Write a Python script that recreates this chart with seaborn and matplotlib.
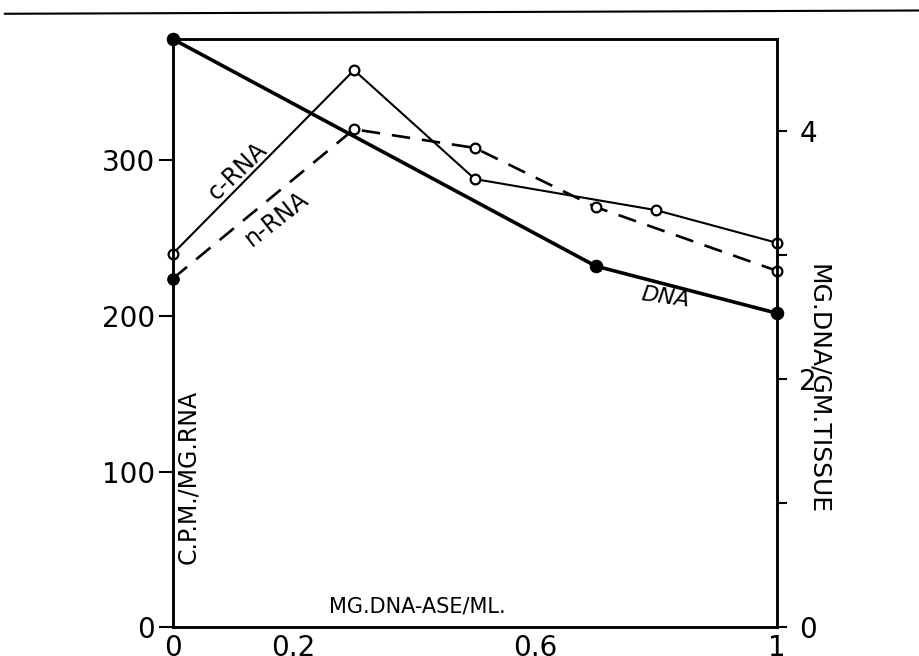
import matplotlib
matplotlib.use("Agg")
import matplotlib.pyplot as plt
from matplotlib.lines import Line2D
import seaborn as sns
import pandas as pd

# ---- data ----
x_crna = [0.0, 0.3, 0.5, 0.8, 1.0]
crna = [240, 358, 288, 268, 247]
x_nrna = [0.0, 0.3, 0.5, 0.7, 1.0]
nrna = [224, 320, 308, 270, 229]
x_dna = [0.0, 0.7, 1.0]
dna = [4.74, 2.91, 2.53]

left_ticks = [0, 100, 200, 300]
right_ticks = [0, 1, 2, 3, 4]
right_labels = ["0", "", "2", "", "4"]
x_ticks = [0, 0.2, 0.4, 0.6, 0.8, 1.0]
x_labels = ["0", "0.2", "", "0.6", "", "1"]

sns.set_style("white")
plt.rcParams["font.family"] = ["DejaVu Sans"]
plt.rcParams["text.color"] = "black"
plt.rcParams["axes.labelcolor"] = "black"
plt.rcParams["xtick.color"] = "black"
plt.rcParams["ytick.color"] = "black"

fig = plt.figure(figsize=(9.19, 6.56), dpi=100)
ax = fig.add_axes([0.188, 0.044, 0.6575, 0.8965])

df_c = pd.DataFrame({"x": x_crna, "y": crna})
df_n = pd.DataFrame({"x": x_nrna, "y": nrna})
df_d = pd.DataFrame({"x": x_dna, "y": dna})

sns.lineplot(data=df_c, x="x", y="y", ax=ax, color="black", lw=1.5,
             marker="o", markersize=7, markerfacecolor="white",
             markeredgecolor="black", markeredgewidth=1.6, clip_on=False)
sns.lineplot(data=df_n, x="x", y="y", ax=ax, color="black", lw=1.9,
             marker="o", markersize=7, markerfacecolor="white",
             markeredgecolor="black", markeredgewidth=1.6, clip_on=False)
ax.lines[-1].set_dashes([7, 4.5])
# filled first point of n-RNA
ax.plot([x_nrna[0]], [nrna[0]], "o", color="black", markersize=8, zorder=5,
        clip_on=False)

ax.set_xlim(0, 1)
ax.set_ylim(0, 378)
ax.set_xticks(x_ticks)
ax.set_xticklabels(x_labels, fontsize=20)
ax.set_yticks(left_ticks)
ax.set_yticklabels([str(v) for v in left_ticks], fontsize=20)
ax.tick_params(axis="y", direction="out", length=10, width=1.5, pad=3)
ax.tick_params(axis="x", direction="out", length=5, width=1.5, pad=0)
ax.set_xlabel("")
ax.set_ylabel("")

ax2 = ax.twinx()
sns.lineplot(data=df_d, x="x", y="y", ax=ax2, color="black", lw=2.6,
             marker="o", markersize=9, markerfacecolor="black",
             markeredgecolor="black", clip_on=False)
ax2.set_ylim(0, 4.74)
ax2.set_yticks(right_ticks)
ax2.set_yticklabels(right_labels, fontsize=20)
ax2.tick_params(axis="y", direction="out", length=7, width=1.5, pad=9)
ax2.set_ylabel("")
ax2.set_xlabel("")

for a in (ax, ax2):
    for s in a.spines.values():
        s.set_visible(True)
        s.set_color("black")
        s.set_linewidth(1.8)

# axis titles drawn inside the frame, as in the original
ax.text(0.025, 0.255, "C.P.M./MG.RNA", transform=ax.transAxes, rotation=90,
        ha="center", va="center", fontsize=17)
ax.text(0.405, 0.035, "MG.DNA-ASE/ML.", transform=ax.transAxes,
        ha="center", va="center", fontsize=15)
ax.text(1.068, 0.405, "MG.DNA/GM.TISSUE", transform=ax.transAxes,
        rotation=-90, ha="center", va="center", fontsize=18)

# series labels
ax.text(0.108, 0.775, "c-RNA", transform=ax.transAxes, rotation=44,
        ha="center", va="center", fontsize=17)
ax.text(0.172, 0.695, "n-RNA", transform=ax.transAxes, rotation=38,
        ha="center", va="center", fontsize=17)
ax.text(0.815, 0.56, "DNA", transform=ax.transAxes, rotation=-8,
        ha="center", va="center", fontsize=16, style="italic")

# page edge line at top
fig.add_artist(Line2D([0.005, 1.0], [0.979, 0.984], transform=fig.transFigure,
                      color="black", lw=1.5))

fig.savefig("out.png", dpi=100)
